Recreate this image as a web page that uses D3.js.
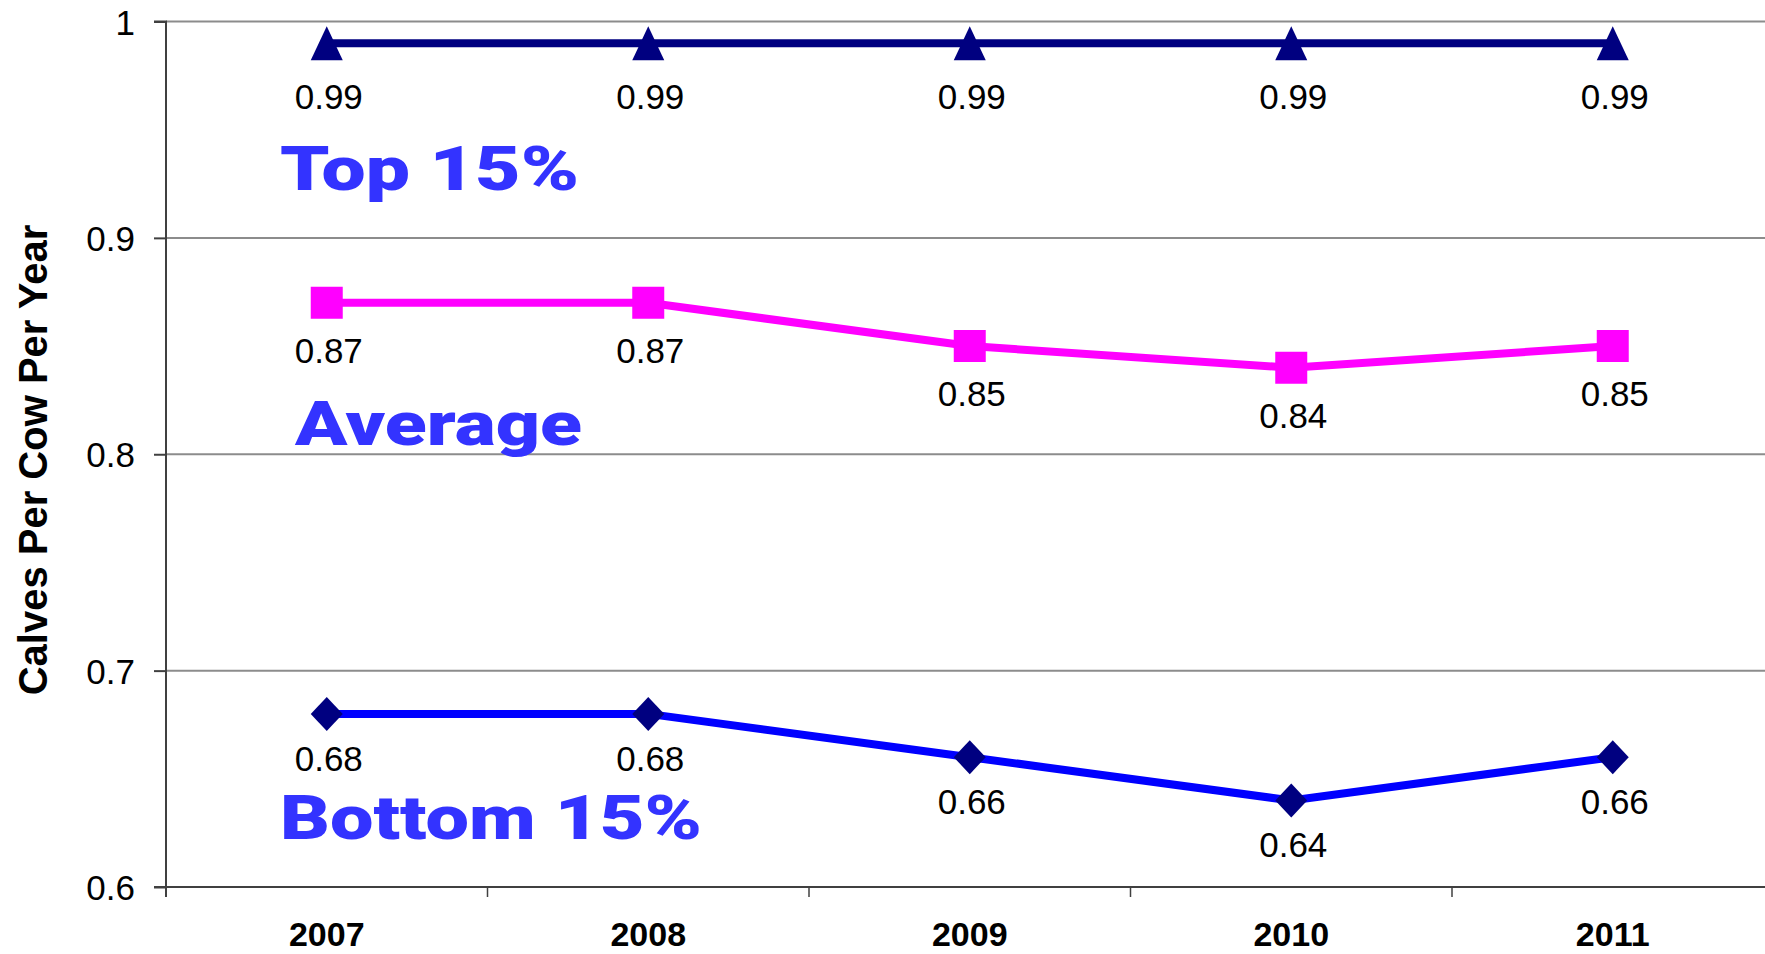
<!DOCTYPE html>
<html>
<head>
<meta charset="utf-8">
<script src="https://cdn.jsdelivr.net/npm/d3@7"></script>
<style>
  html, body { margin: 0; padding: 0; background: #fff; }
  svg { display: block; }
  .tick-label { font-family: "Liberation Sans", Arial, sans-serif; font-size: 35px; fill: #000; }
  .cat-label  { font-family: "Liberation Sans", Arial, sans-serif; font-size: 34px; font-weight: bold; fill: #000; }
  .data-label { font-family: "Liberation Sans", Arial, sans-serif; font-size: 35px; fill: #000; }
  .axis-title { font-family: "Liberation Sans", Arial, sans-serif; font-size: 40px; font-weight: bold; fill: #000; }
  .group-name { font-family: "Arial Black", Roboto, "Liberation Sans", sans-serif; font-size: 62px; font-weight: 900; fill: #3333ff; }
</style>
</head>
<body>
<div id="chart"></div>
<script>
// ── Data ──────────────────────────────────────────────────────
const years        = ["2007", "2008", "2009", "2010", "2011"];
const topValues    = [0.99, 0.99, 0.99, 0.99, 0.99];
const avgValues    = [0.87, 0.87, 0.85, 0.84, 0.85];
const bottomValues = [0.68, 0.68, 0.66, 0.64, 0.66];
const yTicks       = [0.6, 0.7, 0.8, 0.9, 1];
const yTickLabels  = ["0.6", "0.7", "0.8", "0.9", "1"];
const groupNames   = ["Top 15%", "Average", "Bottom 15%"];
const yTitle       = "Calves Per Cow Per Year";

// ── Layout ────────────────────────────────────────────────────
const W = 1765, H = 954;
const plotLeft = 166, plotTop = 21.5, plotBottom = 887;
const bandW = 321.5;

const x = d3.scaleBand().domain(years).range([plotLeft, plotLeft + bandW * years.length]).padding(0);
const y = d3.scaleLinear().domain([0.6, 1]).range([plotBottom, plotTop]);
const cx = d => x(d) + x.bandwidth() / 2;

const svg = d3.select("#chart").append("svg")
  .attr("width", W).attr("height", H);

svg.append("rect").attr("width", W).attr("height", H).attr("fill", "#fff");

// gridlines
svg.selectAll(".grid").data(yTicks.filter(v => v > 0.6)).join("line")
  .attr("x1", plotLeft).attr("x2", W)
  .attr("y1", d => y(d)).attr("y2", d => y(d))
  .attr("stroke", "#8c8c8c").attr("stroke-width", 2);

// y axis
const yAxis = d3.axisLeft(y).tickValues(yTicks)
  .tickFormat((d, i) => yTickLabels[i]).tickSize(12).tickPadding(19);
const gy = svg.append("g").attr("transform", `translate(${plotLeft},0)`).call(yAxis);
gy.attr("font-size", null).attr("font-family", null);
gy.select(".domain").attr("stroke", "#404040").attr("stroke-width", 2)
  .attr("d", `M-12,${plotTop}H0V${plotBottom + 10}`);
gy.selectAll(".tick line").attr("stroke", "#404040").attr("stroke-width", 2);
gy.selectAll(".tick text").attr("class", "tick-label").attr("dy", "0.36em");

// x axis
svg.append("line").attr("x1", plotLeft - 12).attr("x2", W)
  .attr("y1", plotBottom).attr("y2", plotBottom)
  .attr("stroke", "#404040").attr("stroke-width", 2);
svg.selectAll(".xtick").data(years.slice(1)).join("line")
  .attr("x1", d => x(d)).attr("x2", d => x(d))
  .attr("y1", plotBottom).attr("y2", plotBottom + 10)
  .attr("stroke", "#404040").attr("stroke-width", 1.5);
svg.selectAll(".cat-label").data(years).join("text")
  .attr("class", "cat-label")
  .attr("x", d => cx(d)).attr("y", 946)
  .attr("text-anchor", "middle").text(d => d);

// y axis title
svg.append("text").attr("class", "axis-title")
  .attr("transform", `translate(47,${(232 + 688) / 2}) rotate(-90)`)
  .attr("text-anchor", "middle").text(yTitle);

// ── Series ────────────────────────────────────────────────────
const series = [
  { values: topValues,    line: "#000080", marker: "#000080", shape: "triangle", labelDy: 66 },
  { values: avgValues,    line: "#ff00ff", marker: "#ff00ff", shape: "square",   labelDy: 60 },
  { values: bottomValues, line: "#0000ff", marker: "#000080", shape: "diamond",  labelDy: 57 }
];

const lineGen = d3.line().x((d, i) => cx(years[i])).y(d => y(d));

function markerPath(shape) {
  if (shape === "triangle") return "M0,-17L16,17L-16,17Z";
  if (shape === "square")   return "M-16,-16H16V16H-16Z";
  return "M0,-17L16,0L0,17L-16,0Z";
}

series.forEach(s => {
  svg.append("path").attr("d", lineGen(s.values))
    .attr("fill", "none").attr("stroke", s.line).attr("stroke-width", 8);

  svg.selectAll(null).data(s.values).join("path")
    .attr("transform", (d, i) => `translate(${cx(years[i])},${y(d)})`)
    .attr("d", markerPath(s.shape)).attr("fill", s.marker);

  svg.selectAll(null).data(s.values).join("text")
    .attr("class", "data-label")
    .attr("x", (d, i) => cx(years[i]) + 2).attr("y", d => y(d) + s.labelDy)
    .attr("text-anchor", "middle").text(d => d3.format(".2f")(d));
});

// group names (text boxes)
const namePos = [
  { x: 280, y: 190, w: 299 },
  { x: 295, y: 445, w: 287 },
  { x: 280, y: 839, w: 422 }
];
svg.selectAll(".group-name").data(groupNames).join("text")
  .attr("class", "group-name")
  .attr("x", (d, i) => namePos[i].x).attr("y", (d, i) => namePos[i].y)
  .attr("textLength", (d, i) => namePos[i].w).attr("lengthAdjust", "spacingAndGlyphs")
  .text(d => d);
</script>
</body>
</html>
